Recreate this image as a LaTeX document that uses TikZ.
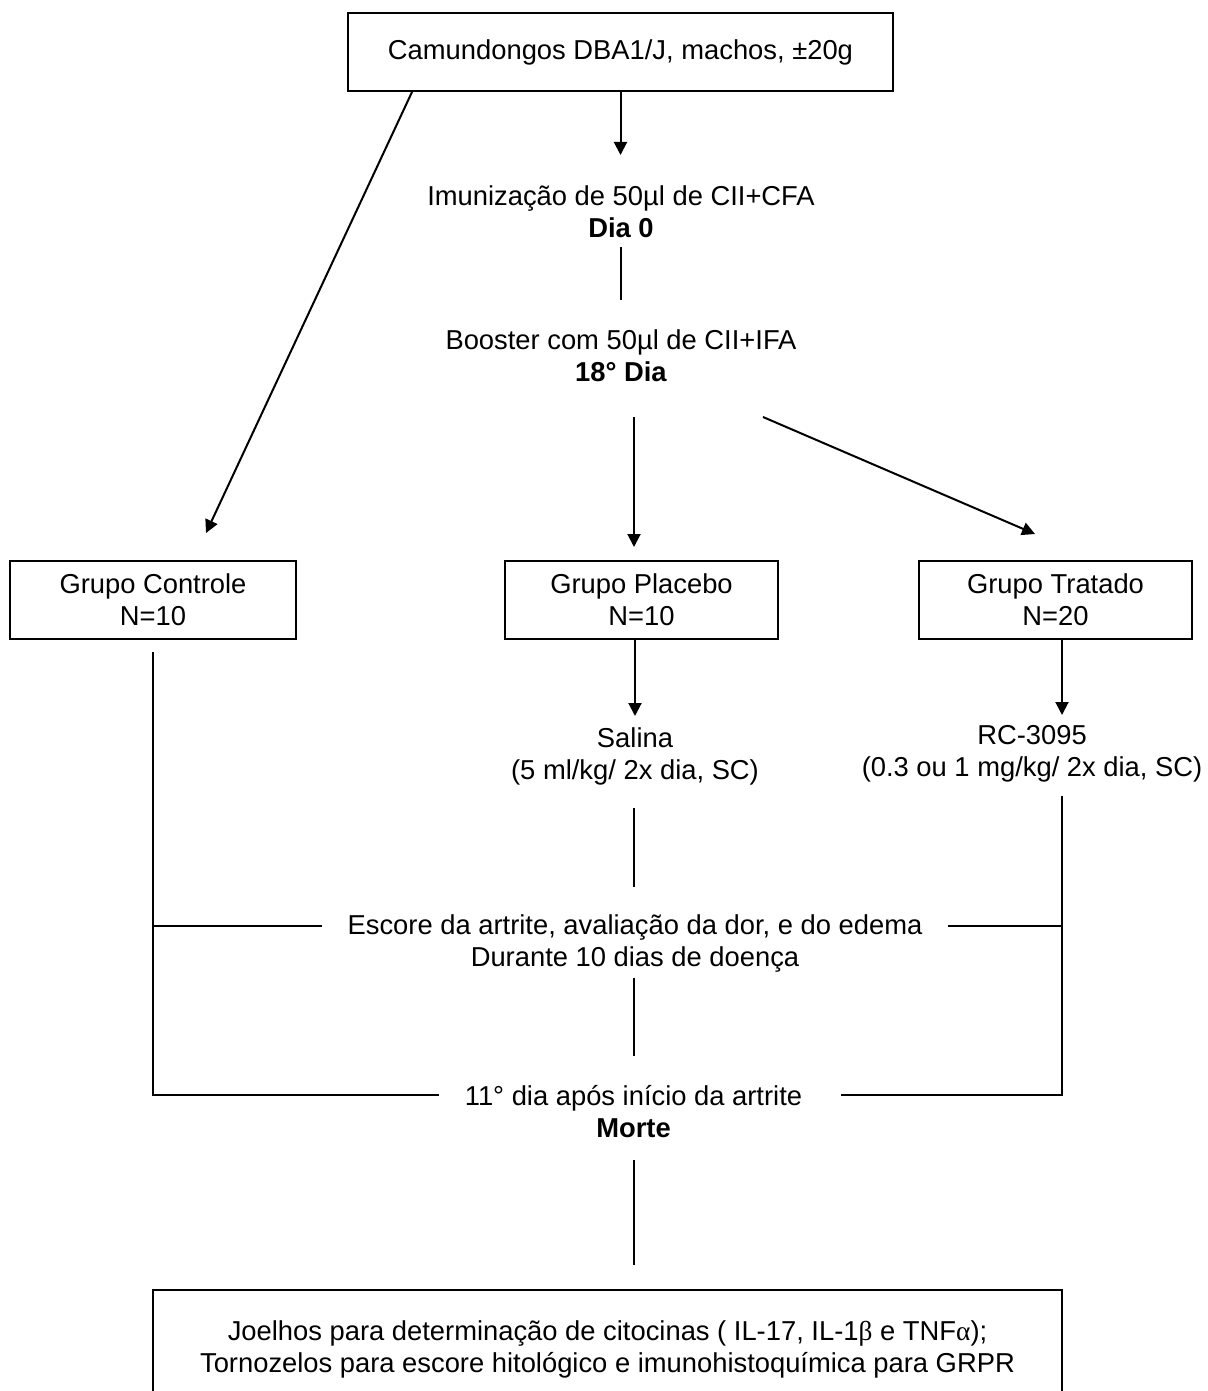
\documentclass[tikz,border=0pt]{standalone}
\usepackage{fontspec}
\setmainfont{Liberation Sans}
\newfontfamily\grk{Liberation Serif}
\usetikzlibrary{arrows.meta,calc}
\begin{document}
\begin{tikzpicture}[x=1pt,y=-1pt, line width=2pt,
  every node/.style={font=\fontsize{27.35pt}{32pt}\selectfont, inner sep=0pt, align=center},
  box/.style={draw, line width=2pt},
  arr/.style={-{Triangle[length=13pt,width=13pt]}}]
\useasboundingbox (0,0) rectangle (1207,1391);
\clip (0,0) rectangle (1207,1391);
\fill[white] (0,0) rectangle (1207,1391);

% nodes
\node[box, minimum width=545pt, minimum height=78pt] (top) at (620.5,52) {Camundongos DBA1/J, machos, ±20g};
\node (imun) at (621,212) {Imunização de 50µl de CII+CFA\\\textbf{Dia 0}};
\node (boost) at (621,356) {Booster com 50µl de CII+IFA\\\textbf{18° Dia}};
\node[box, minimum width=286pt, minimum height=78pt] (ctrl) at (153,600) {Grupo Controle\\N=10};
\node[box, minimum width=273pt, minimum height=78pt] (plac) at (641.5,600) {Grupo Placebo\\N=10};
\node[box, minimum width=273pt, minimum height=78pt] (trat) at (1055.5,600) {Grupo Tratado\\N=20};
\node (sal) at (635,756) {Salina\\(5 ml/kg/ 2x dia, SC)};
\node (rc) at (1032,754) {RC-3095\\(0.3 ou 1 mg/kg/ 2x dia, SC)};
\node (esc) at (635,943) {Escore da artrite, avaliação da dor, e do edema\\Durante 10 dias de doença};
\node (d11) at (633.5,1112) {11° dia após início da artrite\\\textbf{Morte}};
\node[box, minimum width=909pt, minimum height=118pt] (res) at (607.5,1349) {Joelhos para determinação de citocinas ( IL-17, IL-1{\grk β} e TNF{\grk α});\\Tornozelos para escore hitológico e imunohistoquímica para GRPR};

% connector end points
\coordinate (a1) at (620.5,155);
\coordinate (ctrlIn) at (206,533);
\coordinate (imOut) at (620.5,247);
\coordinate (boIn) at (620.5,300);
\coordinate (boOut) at (634,417);
\coordinate (placIn) at (634,547);
\coordinate (boOut2) at (763,417);
\coordinate (tratIn) at (1035,534);
\coordinate (salIn) at (635,716);
\coordinate (rcIn) at (1062,715);
\coordinate (salOut) at (634,808);
\coordinate (escIn) at (634,887);
\coordinate (escOut) at (634,978);
\coordinate (d11In) at (634,1056);
\coordinate (d11Out) at (634,1160);
\coordinate (resIn) at (634,1265);
\coordinate (rcOut) at (1062,796);
\coordinate (ctrlOut) at (153,652);
\coordinate (L1) at (153,926);
\coordinate (L2) at (153,1095);
\coordinate (R1) at (1062,926);
\coordinate (R2) at (1062,1095);
\coordinate (L1e) at (322,926);
\coordinate (R1e) at (948,926);
\coordinate (L2e) at (439,1095);
\coordinate (R2e) at (841,1095);

% connectors
\draw[arr] (top.south) -- (a1);
\draw[arr] ($(top.south west)+(65,0)$) -- (ctrlIn);
\draw (imOut) -- (boIn);
\draw[arr] (boOut) -- (placIn);
\draw[arr] (boOut2) -- (tratIn);
\draw[arr] (salIn |- plac.south) -- (salIn);
\draw[arr] (rcIn |- trat.south) -- (rcIn);
\draw (salOut) -- (escIn);
\draw (escOut) -- (d11In);
\draw (d11Out) -- (resIn);
\draw (ctrlOut) -- (L2) -- (L2e);
\draw (L1) -- (L1e);
\draw (rcOut) -- (R2) -- (R2e);
\draw (R1e) -- (R1);
\end{tikzpicture}
\end{document}
